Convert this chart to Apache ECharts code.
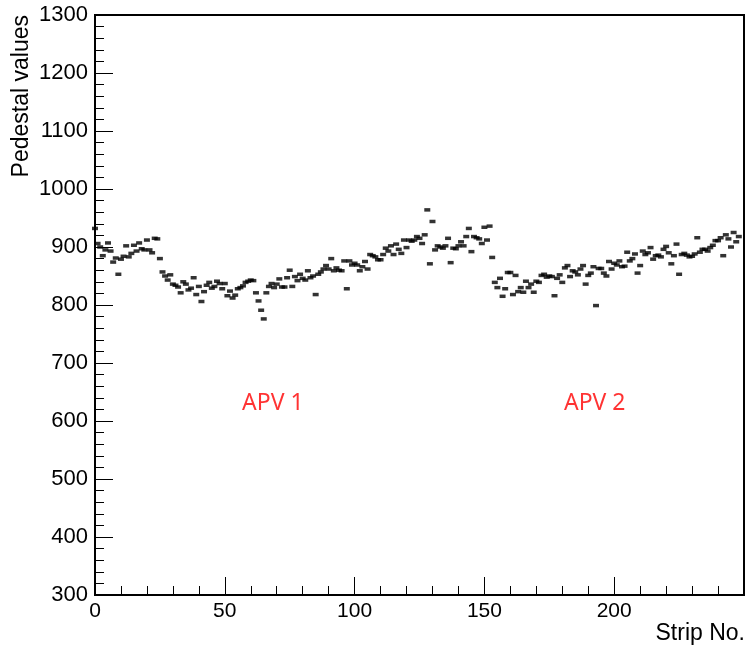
<!DOCTYPE html>
<html>
<head>
<meta charset="utf-8">
<script src="https://cdn.jsdelivr.net/npm/echarts@6/dist/echarts.min.js"></script>
<style>
html,body{margin:0;padding:0;background:#fff;}
#chart{width:747px;height:647px;}
</style>
</head>
<body>
<div id="chart"></div>
<script>
// Pedestal value for each strip (index = strip number)
var pedestals = [
  932, 906, 900, 885, 895, 907, 893, 874, 881, 853,
  879, 884, 902, 883, 889, 903, 893, 907, 897, 895,
  912, 895, 890, 915, 914, 880, 857, 850, 843, 852,
  836, 834, 831, 821, 840, 836, 826, 829, 847, 818,
  832, 806, 823, 834, 839, 829, 832, 841, 837, 828,
  837, 816, 824, 812, 817, 828, 830, 833, 839, 841,
  843, 842, 821, 807, 791, 776, 821, 832, 837, 830,
  836, 845, 831, 831, 847, 860, 832, 849, 842, 853,
  846, 843, 859, 847, 850, 818, 853, 857, 862, 868,
  862, 880, 859, 864, 860, 859, 876, 828, 876, 869,
  872, 869, 859, 866, 875, 862, 887, 885, 883, 878,
  878, 887, 898, 893, 902, 887, 905, 896, 889, 912,
  899, 912, 910, 912, 918, 915, 906, 921, 964, 871,
  944, 895, 902, 900, 898, 902, 915, 873, 898, 897,
  902, 909, 902, 918, 932, 892, 918, 916, 914, 906,
  934, 912, 936, 882, 839, 830, 846, 815, 828, 856,
  856, 818, 851, 823, 830, 822, 841, 830, 836, 822,
  841, 839, 851, 853, 848, 850, 849, 816, 846, 852,
  839, 864, 868, 849, 859, 857, 852, 862, 868, 836,
  851, 855, 866, 799, 863, 863, 855, 850, 875, 862,
  872, 869, 876, 866, 867, 891, 876, 880, 888, 855,
  868, 893, 887, 890, 899, 879, 885, 886, 883, 896,
  901, 890, 871, 885, 905, 853, 887, 889, 886, 883,
  884, 888, 916, 891, 896, 896, 893, 899, 903, 911,
  911, 916, 885, 921, 914, 900, 925, 909, 918
];
var xTicks = [0, 50, 100, 150, 200];
var yTicks = [300, 400, 500, 600, 700, 800, 900, 1000, 1100, 1200, 1300];
var xTitle = 'Strip No.';
var yTitle = 'Pedestal values';
var regionLabels = [{ text: 'APV 1', strip: 68.5, value: 630 }, { text: 'APV 2', strip: 192.5, value: 630 }];

var points = pedestals.map(function (v, i) { return [i, v]; });

var chart = echarts.init(document.getElementById('chart'), null, { renderer: 'canvas' });
var FONT = 'Liberation Sans';
var option = {
  animation: false,
  backgroundColor: '#ffffff',
  grid: { left: 95, right: 2, top: 15, bottom: 52, show: true, borderColor: '#000', borderWidth: 2, backgroundColor: 'transparent' },
  xAxis: {
    type: 'value', min: 0, max: 250, interval: 50,
    axisLine: { show: true, onZero: false, lineStyle: { color: '#000', width: 2 } },
    axisTick: { show: true, inside: true, length: 18, lineStyle: { color: '#000', width: 1 } },
    minorTick: { show: true, splitNumber: 5, length: 9, lineStyle: { color: '#000', width: 1 } },
    splitLine: { show: false },
    axisLabel: {
      margin: 6, color: '#000', fontFamily: FONT, fontSize: 21,
      formatter: function (v) { return xTicks.indexOf(v) >= 0 ? String(v) : ''; }
    }
  },
  yAxis: {
    type: 'value', min: 300, max: 1300, interval: 100,
    axisLine: { show: true, onZero: false, lineStyle: { color: '#000', width: 2 } },
    axisTick: { show: true, inside: true, length: 18, lineStyle: { color: '#000', width: 1 } },
    minorTick: { show: true, splitNumber: 5, length: 9, lineStyle: { color: '#000', width: 1 } },
    splitLine: { show: false },
    axisLabel: {
      margin: 7, color: '#000', fontFamily: FONT, fontSize: 22,
      formatter: function (v) { return yTicks.indexOf(v) >= 0 ? String(v) : ''; }
    }
  },
  series: [
    {
      type: 'scatter',
      data: points,
      symbol: 'rect',
      symbolSize: [6, 3.5],
      itemStyle: { color: '#000' },
      silent: true
    },
    {
      type: 'scatter',
      data: regionLabels.map(function (r) { return { value: [r.strip, r.value], name: r.text }; }),
      symbolSize: 0,
      label: {
        show: true, position: 'inside', formatter: '{b}',
        color: '#ff0000', fontFamily: 'Noto Sans', fontSize: 23
      },
      silent: true
    }
  ],
  graphic: [
    {
      type: 'text', x: 745, y: 634,
      style: { text: xTitle, fill: '#000', font: '23px "Liberation Sans"', textAlign: 'right', textVerticalAlign: 'middle' }
    },
    {
      type: 'text', x: 22, y: 15, rotation: Math.PI / 2,
      style: { text: yTitle, fill: '#000', font: '23px "Liberation Sans"', textAlign: 'right', textVerticalAlign: 'middle' }
    }
  ]
};
chart.setOption(option);
</script>
</body>
</html>
